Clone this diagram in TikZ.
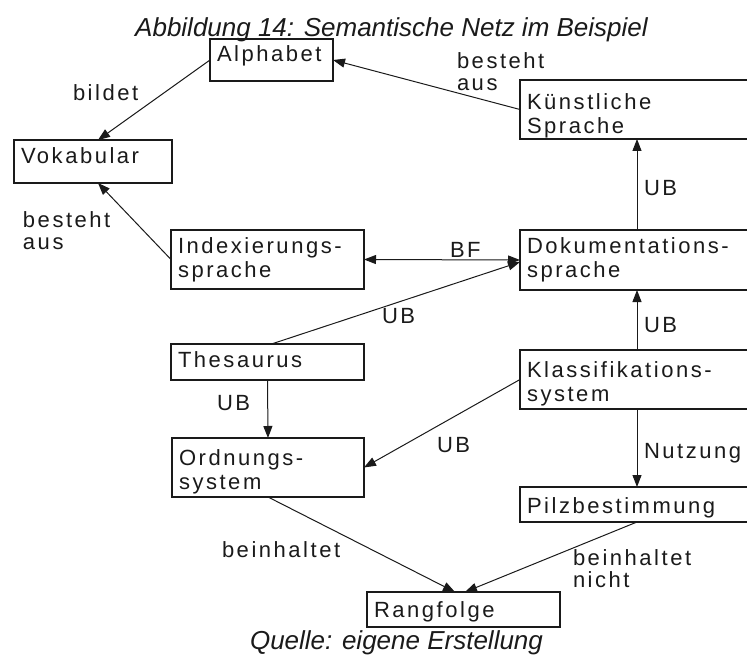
\documentclass[tikz,border=0pt]{standalone}
\usepackage{fontspec}
\setmainfont{Liberation Sans}
\newfontfamily\boxfont[LetterSpace=11.5,Ligatures=NoCommon]{Liberation Sans}
\usetikzlibrary{arrows.meta,calc}

\definecolor{ink}{HTML}{1A1A1A}

\tikzset{
  box/.style={draw=ink, line width=1.7pt, anchor=north west, outer sep=0pt,
    inner xsep=7pt, inner ysep=0pt, align=left,
    font=\boxfont\fontsize{22}{24}\selectfont, text=ink},
  lbl/.style={anchor=north west, inner sep=0pt, outer sep=0pt, align=left,
    font=\boxfont\fontsize{22}{22}\selectfont, text=ink},
  arr/.style={draw=ink, line width=1pt, -{Triangle[length=12pt,width=9pt]}},
  biarr/.style={draw=ink, line width=1pt,
    {Triangle[length=12pt,width=9pt]}-{Triangle[length=12pt,width=9pt]}},
  caption/.style={anchor=base, inner sep=0pt, font=\itshape\fontsize{26}{30}\selectfont, text=ink}
}

\begin{document}
\begin{tikzpicture}[x=1pt,y=-1pt]
  \path[use as bounding box, fill=white] (0,0) rectangle (747,655);
  \clip (0,0) rectangle (747,655);

  % headings
  \node[caption] (title) at (391.5,37) {Abbildung 14: Semantische Netz im Beispiel};
  \node[caption] (source) at (396.5,649) {Quelle: eigene Erstellung};

  % concept boxes
  \node[box, text width=109pt, text height=23pt, text depth=19pt] (alpha) at (210,39) {Alphabet};
  \node[box, text width=144pt, text height=24pt, text depth=19pt] (vok) at (14,140) {Vokabular};
  \node[box, text width=246pt, text height=30pt, text depth=29pt] (kuenst) at (520,80) {Künstliche\\Sprache};
  \node[box, text width=179pt, text height=24pt, text depth=35pt] (index) at (171,230) {Indexierungs-\\sprache};
  \node[box, text width=246pt, text height=24pt, text depth=36pt] (doku) at (520,230) {Dokumentations-\\sprache};
  \node[box, text width=179pt, text height=23pt, text depth=13pt] (thes) at (171,344) {Thesaurus};
  \node[box, text width=246pt, text height=27pt, text depth=32pt] (klass) at (520,350) {Klassifikations-\\system};
  \node[box, text width=178pt, text height=27pt, text depth=32pt] (ord) at (172,438) {Ordnungs-\\system};
  \node[box, text width=246pt, text height=26pt, text depth=9pt] (pilz) at (520,487) {Pilzbestimmung};
  \node[box, text width=179pt, text height=25pt, text depth=10pt] (rang) at (367,592) {Rangfolge};

  % relations
  \draw[arr] (alpha.west) -- ($(vok.north west)+(84,0)$);
  \draw[arr] (kuenst.west) -- (alpha.east);
  \draw[arr] (index.west) -- ($(vok.south west)+(84,0)$);
  \draw[biarr] (index.east) -- (doku.west);
  \draw[arr] ($(thes.north)+(4,0)$) -- ($(doku.west)+(0,2)$);
  \draw[arr] ($(doku.north west)+(117,0)$) -- ($(kuenst.south west)+(117,0)$);
  \draw[arr] ($(klass.north west)+(117,0)$) -- ($(doku.south west)+(117,0)$);
  \draw[arr] ($(klass.south west)+(117,0)$) -- ($(pilz.north west)+(117,0)$);
  \draw[arr] (klass.west) -- (ord.east);
  \draw[arr] (thes.south) -- (ord.north);
  \draw[arr] (ord.south) -- ($(rang.north west)+(88,0)$);
  \draw[arr] ($(pilz.south west)+(117,0)$) -- ($(rang.north west)+(98,0)$);

  % relation labels
  \node[lbl] (lbildet) at (73,85) {bildet};
  \node[lbl] (lbest1) at (457,53) {besteht\\aus};
  \node[lbl] (lbest2) at (23,212) {besteht\\aus};
  \node[lbl] (lbf) at (450,242) {BF};
  \node[lbl] (lub1) at (644,180) {UB};
  \node[lbl] (lub2) at (382,308) {UB};
  \node[lbl] (lub3) at (644,317) {UB};
  \node[lbl] (lub4) at (217,395) {UB};
  \node[lbl] (lub5) at (437,437) {UB};
  \node[lbl] (lnutz) at (644,443) {Nutzung};
  \node[lbl] (lbein) at (222,542) {beinhaltet};
  \node[lbl] (lbein2) at (573,550) {beinhaltet\\nicht};
\end{tikzpicture}
\end{document}
